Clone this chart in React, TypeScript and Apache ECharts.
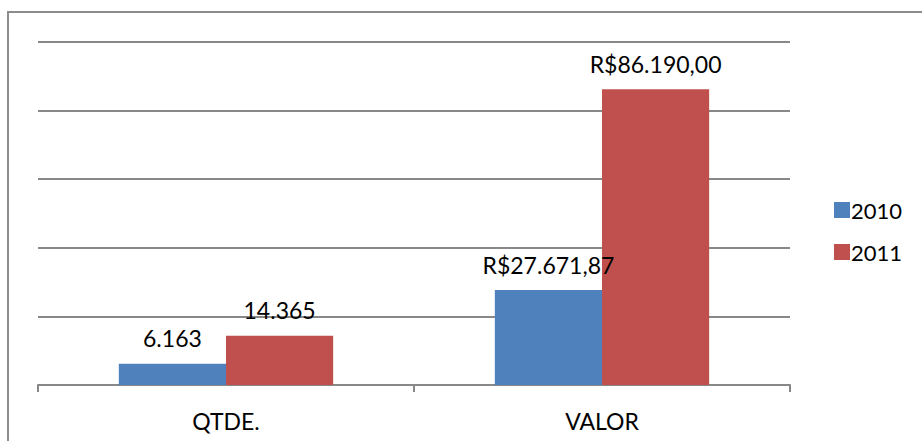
import React, { useEffect, useRef } from "react";
import * as echarts from "echarts";

const categories = ["QTDE.", "VALOR"];
const seriesNames = ["2010", "2011"];
const values2010 = [6163, 27671.87];
const values2011 = [14365, 86190];
const labels2010 = ["6.163", "R$27.671,87"];
const labels2011 = ["14.365", "R$86.190,00"];
const yTicks = [0, 20000, 40000, 60000, 80000, 100000];

const FONT = "Lato";

export default function App() {
  const ref = useRef<HTMLDivElement>(null);
  useEffect(() => {
    if (!ref.current) return;
    const chart = echarts.init(ref.current, undefined, { renderer: "svg" });
    const labelStyle = (texts: string[]) => ({
      show: true,
      position: "top",
      distance: 14,
      color: "#000",
      fontFamily: FONT,
      fontSize: 23,
      formatter: (p: any) => texts[p.dataIndex],
    });
    chart.setOption({
      animation: false,
      backgroundColor: "#fff",
      graphic: [
        {
          type: "rect",
          shape: { x: 8, y: 12, width: 1000, height: 500 },
          style: { fill: "none", stroke: "#8c8c8c", lineWidth: 2 },
          silent: true,
        },
      ],
      legend: {
        orient: "vertical",
        left: 829,
        top: 194,
        itemWidth: 16,
        itemHeight: 16,
        itemGap: 20,
        icon: "rect",
        textStyle: { fontFamily: FONT, fontSize: 22, color: "#000", padding: [0, 0, 0, -4] },
        data: seriesNames,
      },
      grid: { left: 38, right: 132, top: 42, bottom: 56 },
      xAxis: {
        type: "category",
        data: categories,
        axisLine: { lineStyle: { color: "#888", width: 2 } },
        axisTick: { show: true, length: 7, lineStyle: { color: "#888", width: 2 } },
        axisLabel: { color: "#000", fontFamily: FONT, fontSize: 23, margin: 24 },
      },
      yAxis: {
        type: "value",
        min: yTicks[0],
        max: yTicks[yTicks.length - 1],
        interval: yTicks[1] - yTicks[0],
        axisLabel: { show: false },
        axisLine: { show: false },
        axisTick: { show: false },
        splitLine: { lineStyle: { color: "#888", width: 2 } },
      },
      series: [
        {
          name: seriesNames[0],
          type: "bar",
          data: values2010,
          itemStyle: { color: "#4F81BD" },
          barGap: "0%",
          barCategoryGap: "43%",
          label: labelStyle(labels2010),
        },
        {
          name: seriesNames[1],
          type: "bar",
          data: values2011,
          itemStyle: { color: "#C0504D" },
          barGap: "0%",
          barCategoryGap: "43%",
          label: labelStyle(labels2011),
        },
      ],
    });
    return () => chart.dispose();
  }, []);
  return (
    <div
      ref={ref}
      style={{ position: "fixed", left: 0, top: 0, width: 922, height: 441 }}
    />
  );
}
